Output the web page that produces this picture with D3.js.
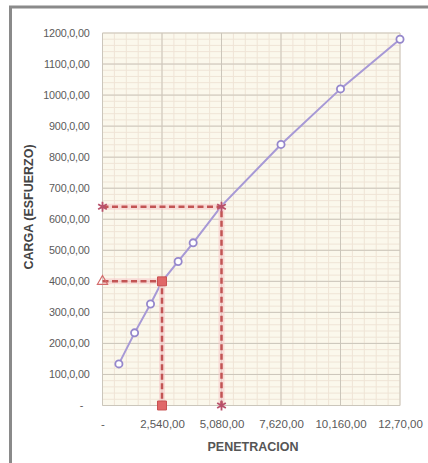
<!DOCTYPE html>
<html><head><meta charset="utf-8">
<script src="https://cdn.jsdelivr.net/npm/d3@7/dist/d3.min.js"></script>
<style>body{margin:0;background:#fff;}svg{display:block;}</style>
</head><body>
<script>
const penetracion = [700, 1370, 2050, 2540, 3230, 3870, 5080, 7620, 10160, 12700];
const carga = [134, 234, 327, 399, 464, 524, 643, 841, 1020, 1180];
const xTicks = [0, 2540, 5080, 7620, 10160, 12700];
const xTickLabels = ["-", "2,540,00", "5,080,00", "7,620,00", "10,160,00", "12,70,00"];
const yTicks = [0,100,200,300,400,500,600,700,800,900,1000,1100,1200];
const yTickLabels = ["-", "100,0,00", "200,0,00", "300,0,00", "400,0,00", "500,0,00", "600,0,00", "700,0,00", "800,0,00", "900,0,00", "1000,0,00", "1100,0,00", "1200,0,00"];
const ref1 = [[0,400],[2540,400],[2540,0]];
const ref2 = [[0,640],[5080,640],[5080,0]];

const W = 428, H = 463;
const FONT = "Liberation Sans, Arial, sans-serif";
const svg = d3.select("body").append("svg").attr("width", W).attr("height", H);
const x = d3.scaleLinear().domain([0, 12700]).range([102.5, 400]);
const y = d3.scaleLinear().domain([0, 1200]).range([405.5, 33]);

// frame
svg.append("line").attr("x1",9).attr("x2",W).attr("y1",7).attr("y2",7).attr("stroke","#8a8a8a").attr("stroke-width",3);
svg.append("line").attr("x1",10.5).attr("x2",10.5).attr("y1",6).attr("y2",H).attr("stroke","#8a8a8a").attr("stroke-width",3);

// plot bg
svg.append("rect").attr("x", x(0)).attr("y", y(1200)).attr("width", x(12700)-x(0)).attr("height", y(0)-y(1200)).attr("fill", "#fbf8ec");

// minor grid
const xMinor = d3.range(0, 12700.1, 2540/5);
const yMinor = d3.range(0, 1200.1, 20);
svg.append("g").selectAll("line").data(xMinor).join("line")
  .attr("x1", d=>x(d)).attr("x2", d=>x(d)).attr("y1", y(0)).attr("y2", y(1200))
  .attr("stroke", "#efe4d6").attr("stroke-width", 1);
svg.append("g").selectAll("line").data(yMinor).join("line")
  .attr("y1", d=>y(d)).attr("y2", d=>y(d)).attr("x1", x(0)).attr("x2", x(12700))
  .attr("stroke", "#efe4d6").attr("stroke-width", 1);
// major grid
svg.append("g").selectAll("line").data(xTicks).join("line")
  .attr("x1", d=>x(d)).attr("x2", d=>x(d)).attr("y1", y(0)).attr("y2", y(1200))
  .attr("stroke", "#cbc6bb").attr("stroke-width", 1);
svg.append("g").selectAll("line").data(yTicks).join("line")
  .attr("y1", d=>y(d)).attr("y2", d=>y(d)).attr("x1", x(0)).attr("x2", x(12700))
  .attr("stroke", "#cbc6bb").attr("stroke-width", 1);

// axes labels
const xAxis = d3.axisBottom(x).tickValues(xTicks).tickFormat((d,i)=>xTickLabels[i]).tickSize(0).tickPadding(14);
const gx = svg.append("g").attr("transform", `translate(0,${y(0)})`).call(xAxis);
gx.select(".domain").remove();
gx.selectAll("text").attr("font-family",FONT).attr("font-size", 11.5).attr("fill","#5a5a5a");

const yAxis = d3.axisLeft(y).tickValues(yTicks).tickFormat((d,i)=>yTickLabels[i]).tickSize(0).tickPadding(13);
const gy = svg.append("g").attr("transform", `translate(${x(0)},0)`).call(yAxis);
gy.select(".domain").remove();
gy.selectAll("text").attr("font-family",FONT).attr("font-size", 10.8).attr("fill","#5a5a5a").attr("letter-spacing","-0.2");
gy.selectAll(".tick").filter(d=>d===0).select("text").attr("text-anchor","middle").attr("x",-21);

// axis titles
svg.append("text").attr("x", 253).attr("y", 451).attr("text-anchor","middle")
  .attr("font-family",FONT).attr("font-size",12.5).attr("font-weight","bold").attr("fill","#555")
  .text("PENETRACION");
svg.append("text").attr("transform","translate(33,207) rotate(-90)").attr("text-anchor","middle")
  .attr("font-family",FONT).attr("font-size",12.5).attr("font-weight","bold").attr("fill","#444")
  .text("CARGA (ESFUERZO)");

// main curve
const line = d3.line().x(d=>x(d[0])).y(d=>y(d[1]));
const pts = penetracion.map((p,i)=>[p, carga[i]]);
svg.append("path").datum(pts).attr("d", line).attr("fill","none").attr("stroke","#a799d6").attr("stroke-width",2);

// reference dashed lines
[ref1, ref2].forEach(r=>{
  svg.append("path").datum(r).attr("d", line).attr("fill","none").attr("stroke","#f6c9c9").attr("stroke-width",6).attr("opacity",0.6);
});
[ref1, ref2].forEach(r=>{
  svg.append("path").datum(r).attr("d", line).attr("fill","none").attr("stroke","#c25454").attr("stroke-width",2.5).attr("stroke-dasharray","6,3.5");
});

// curve markers
svg.append("g").selectAll("circle").data(pts.filter(d=>d[0]!==2540 && d[0]!==5080)).join("circle")
  .attr("cx", d=>x(d[0])).attr("cy", d=>y(d[1])).attr("r", 3.6)
  .attr("fill","#fff").attr("stroke","#9587cc").attr("stroke-width",1.8);

// ref markers
const sq = d3.symbol().type(d3.symbolSquare).size(80);
const tri = d3.symbol().type(d3.symbolTriangle).size(45);
const star = d3.symbol().type(d3.symbolAsterisk).size(70);
svg.append("path").attr("d", tri()).attr("transform", `translate(${x(ref1[0][0])},${y(ref1[0][1])})`).attr("fill","none").attr("stroke","#d46a6a").attr("stroke-width",1.2);
[ref1[1], ref1[2]].forEach(d=>{
  svg.append("path").attr("d", sq()).attr("transform", `translate(${x(d[0])},${y(d[1])})`).attr("fill","#e06868").attr("stroke","#c85050").attr("stroke-width",1);
});
ref2.forEach(d=>{
  svg.append("path").attr("d", star()).attr("transform", `translate(${x(d[0])},${y(d[1])})`).attr("fill","none").attr("stroke","#b8506a").attr("stroke-width",1.8);
});
</script>
</body></html>
